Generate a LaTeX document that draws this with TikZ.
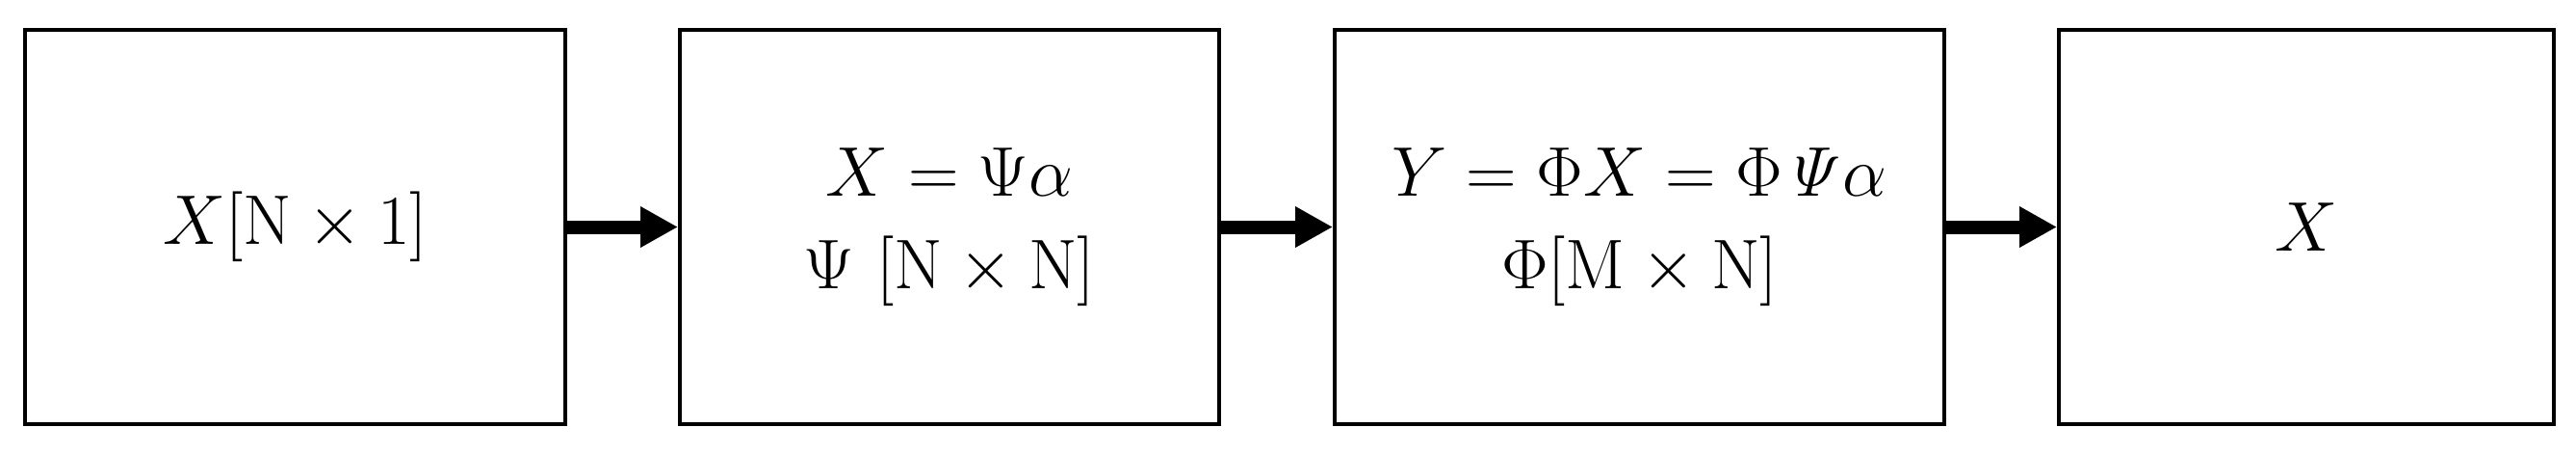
\documentclass[tikz,border=0pt]{standalone}
\usepackage{tikz}
\usetikzlibrary{arrows.meta,positioning}

\begin{document}
\begin{tikzpicture}[auto,
		block/.style={draw, line width=0.04cm, minimum height=4.09cm, inner sep=0pt, align=center, font=\fontsize{22}{27.5}\selectfont},
		flow/.style={line width=0.14cm, -{Triangle[length=0.39cm, width=0.40cm]}}]
			\useasboundingbox (0, 0) rectangle (26.75, 4.70);
			\node[block, minimum width=5.61cm] (node1) at (3.065, 2.345) {$X[\mathrm{N}\times 1]$};
			\node[block, minimum width=5.60cm] (node2) at (9.86, 2.345) {$X = \Psi\alpha$\\ $\Psi\ [\mathrm{N}\times\mathrm{N}]$};
			\node[block, minimum width=6.33cm] (node3) at (17.025, 2.345) {$Y = \Phi X = \Phi\mathit{\Psi}\alpha$\\ $\Phi[\mathrm{M}\times\mathrm{N}]$};
			\node[block, minimum width=5.14cm] (node4) at (23.95, 2.345) {$X$};

			\draw [flow] (node1) to (node2);
			\draw [flow] (node2) to (node3);
			\draw [flow] (node3) to (node4);
	\end{tikzpicture}
\end{document}
